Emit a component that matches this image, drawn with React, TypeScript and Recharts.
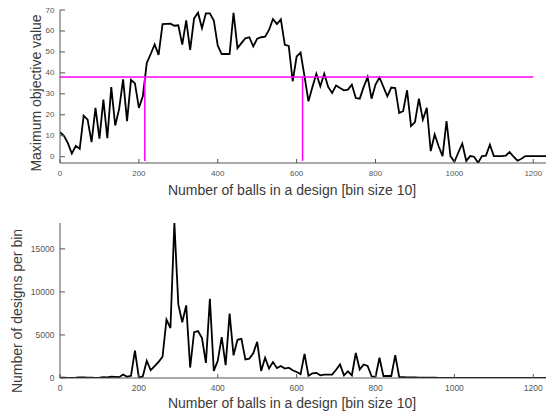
import * as React from "react";
import { LineChart, Line, XAxis, YAxis, ReferenceLine, Label } from "recharts";

const BIN_SIZE = 10;

// best objective reached by any design in each bin of ball counts
const maxObjective = [
  11.7, 10, 6.5, 1.5, 5.2, 3.8, 19.6, 17.7, 7, 23.3,
  8.6, 27.2, 8.8, 33.2, 14.9, 22.8, 36.9, 17, 36.7, 35,
  23.3, 28.8, 44.7, 49, 53.6, 48.6, 63.3, 63.4, 63.5, 62.5,
  62.7, 53.5, 65, 51, 66, 68.7, 61.3, 68.4, 68.4, 65,
  53, 49, 49, 49, 68.7, 51.8, 54.2, 56.5, 57, 52.6,
  56.3, 57, 57.3, 60.5, 65.7, 63.3, 65.5, 53.4, 52.9, 36,
  47.8, 49.7, 38.3, 26.4, 33.3, 39.6, 33.6, 39.6, 33.3, 30.4,
  34, 32.8, 31.7, 32, 34.4, 28, 27.7, 33.3, 38, 27.7,
  34.4, 37.8, 33.3, 28.8, 33, 32.8, 20.9, 21.7, 31.7, 14.6,
  16.5, 27.7, 17.7, 23.3, 2.7, 10.6, 5, 0.3, 17, 0.3,
  -2.4, 2, 6.3, -2, 0.3, 0, -2.9, 0.3, 0.5, 5.7,
  0.3, 0.3, 0.3, 0.5, 2.2, 0, -1.9, -1, 0.3, 0.3,
  0.3, 0.3, 0.3, 0.3, 0.3, -0.8,
];

// how many designs fall into each bin
const designCount = [
  50, 30, 20, 20, 30, 60, 80, 50, 30, 20,
  40, 100, 60, 150, 120, 100, 400, 150, 250, 3175,
  50, 200, 2000, 900, 1370, 1880, 2470, 6780, 5800, 18000,
  8550, 6470, 8430, 1215, 5330, 5450, 4630, 1760, 9210, 820,
  2000, 4740, 1490, 7490, 2630, 4430, 4550, 2150, 2250, 2860,
  4200, 820, 2350, 1100, 1850, 1150, 1400, 1100, 1200, 900,
  700, 450, 2800, 250, 550, 600, 310, 390, 390, 390,
  950, 1570, 310, 780, 310, 2900, 1000, 1570, 1410, 200,
  150, 2350, 235, 235, 235, 2650, 120, 100, 80, 70,
  60, 50, 45, 40, 35, 30, 25, 20, 20, 15,
  10, 10, 10, 8, 8, 5, 5, 5, 5, 5,
  5, 3, 3, 3, 3, 2, 2, 2, 2, 2,
  2, 1, 1, 1, 1, 1,
];

const xTicks = [0, 200, 400, 600, 800, 1000, 1200];
const objectiveTicks = [0, 10, 20, 30, 40, 50, 60, 70];
const countTicks = [0, 5000, 10000, 15000];

const threshold = 38;
const thresholdEnd = 1200;
const thresholdFloor = -2;
const crossings = [215, 615];

const xTitle = "Number of balls in a design [bin size 10]";

const topData = maxObjective.map((v, i) => ({ x: i * BIN_SIZE, v }));
const bottomData = designCount.map((v, i) => ({ x: i * BIN_SIZE, v }));

const FONT = "'Liberation Sans', Arial, sans-serif";
const AXIS = "#555";
const TICK_TEXT = "#555";
const TITLE = "#3a3a3a";
const MAGENTA = "#ff00ff";

function BottomTick(props: any) {
  const { x, y, payload, fontSize = 8 } = props;
  return (
    <g>
      <line x1={x} x2={x} y1={y} y2={y - 4} stroke={AXIS} />
      <text
        x={x}
        y={y + 10}
        textAnchor="middle"
        dominantBaseline="central"
        fontSize={fontSize}
        fontFamily={FONT}
        fill={TICK_TEXT}
      >
        {payload.value}
      </text>
    </g>
  );
}

function LeftTick(props: any) {
  const { x, y, payload, fontSize = 8 } = props;
  return (
    <g>
      <line x1={x} x2={x + 5} y1={y} y2={y} stroke={AXIS} />
      <text
        x={x - 5.5}
        y={y}
        textAnchor="end"
        dominantBaseline="central"
        fontSize={fontSize}
        fontFamily={FONT}
        fill={TICK_TEXT}
      >
        {payload.value}
      </text>
    </g>
  );
}

function TopTick(props: any) {
  const { x, y } = props;
  return <line x1={x} x2={x} y1={y} y2={y + 5} stroke={AXIS} />;
}

function RightTick(props: any) {
  const { x, y } = props;
  return <line x1={x} x2={x - 4} y1={y} y2={y} stroke={AXIS} />;
}

function title(text: string, x: number, y: number, vertical = false) {
  return () => (
    <text
      x={x}
      y={y}
      textAnchor="middle"
      dominantBaseline="central"
      fontSize={14}
      fontFamily={FONT}
      fill={TITLE}
      transform={vertical ? `rotate(-90, ${x}, ${y})` : undefined}
    >
      {text}
    </text>
  );
}

export default function App() {
  return (
    <div style={{ position: "relative", width: 554, height: 417, marginLeft: -8, marginTop: -8 }}>
      <div style={{ position: "absolute", left: 0, top: 0 }}>
        <LineChart width={554} height={210} data={topData} margin={{ top: 10, right: 1, bottom: 0, left: 0 }}>
          <XAxis
            dataKey="x"
            type="number"
            domain={[0, 1250]}
            ticks={xTicks}
            interval={0}
            height={47}
            tickSize={0}
            tickMargin={0}
            tickLine={false}
            tick={<BottomTick fontSize={8} />}
            axisLine={{ stroke: AXIS }}
            allowDataOverflow
          >
            <Label content={title(xTitle, 292, 190)} />
          </XAxis>
          <YAxis
            type="number"
            domain={[-3, 70]}
            ticks={objectiveTicks}
            interval={0}
            width={60}
            tickSize={0}
            tickMargin={0}
            tickLine={false}
            tick={<LeftTick fontSize={8} />}
            axisLine={{ stroke: AXIS }}
            allowDataOverflow
          >
            <Label content={title("Maximum objective value", 35.5, 93, true)} />
          </YAxis>
          <Line
            dataKey="v"
            stroke="#000"
            strokeWidth={1.8}
            dot={false}
            isAnimationActive={false}
          />
          <ReferenceLine
            segment={[
              { x: 0, y: threshold },
              { x: thresholdEnd, y: threshold },
            ]}
            stroke={MAGENTA}
            strokeWidth={1.5}
          />
          {crossings.map((c) => (
            <ReferenceLine
              key={c}
              segment={[
                { x: c, y: thresholdFloor },
                { x: c, y: threshold },
              ]}
              stroke={MAGENTA}
              strokeWidth={1.5}
            />
          ))}
        </LineChart>
      </div>
      <div style={{ position: "absolute", left: 0, top: 210 }}>
        <LineChart width={554} height={207} data={bottomData} margin={{ top: 13, right: 1, bottom: 0, left: 0 }}>
          <XAxis
            dataKey="x"
            type="number"
            domain={[0, 1250]}
            ticks={xTicks}
            interval={0}
            height={39}
            tickSize={0}
            tickMargin={0}
            tickLine={false}
            tick={<BottomTick fontSize={8.5} />}
            axisLine={{ stroke: AXIS }}
            allowDataOverflow
          >
            <Label content={title(xTitle, 292, 193)} />
          </XAxis>
          <XAxis
            xAxisId="top"
            orientation="top"
            dataKey="x"
            type="number"
            domain={[0, 1250]}
            ticks={xTicks}
            interval={0}
            height={0}
            tickSize={0}
            tickMargin={0}
            tickLine={false}
            tick={<TopTick />}
            axisLine={{ stroke: AXIS }}
            allowDataOverflow
          />
          <YAxis
            type="number"
            domain={[0, 18000]}
            ticks={countTicks}
            interval={0}
            width={60}
            tickSize={0}
            tickMargin={0}
            tickLine={false}
            tick={<LeftTick fontSize={8.5} />}
            axisLine={{ stroke: AXIS }}
            allowDataOverflow
          >
            <Label content={title("Number of designs per bin", 17, 101, true)} />
          </YAxis>
          <YAxis
            yAxisId="right"
            orientation="right"
            type="number"
            domain={[0, 18000]}
            ticks={countTicks}
            interval={0}
            width={0}
            tickSize={0}
            tickMargin={0}
            tickLine={false}
            tick={<RightTick />}
            axisLine={{ stroke: AXIS }}
            allowDataOverflow
          />
          <Line
            dataKey="v"
            stroke="#000"
            strokeWidth={1.8}
            dot={false}
            isAnimationActive={false}
          />
        </LineChart>
      </div>
    </div>
  );
}
